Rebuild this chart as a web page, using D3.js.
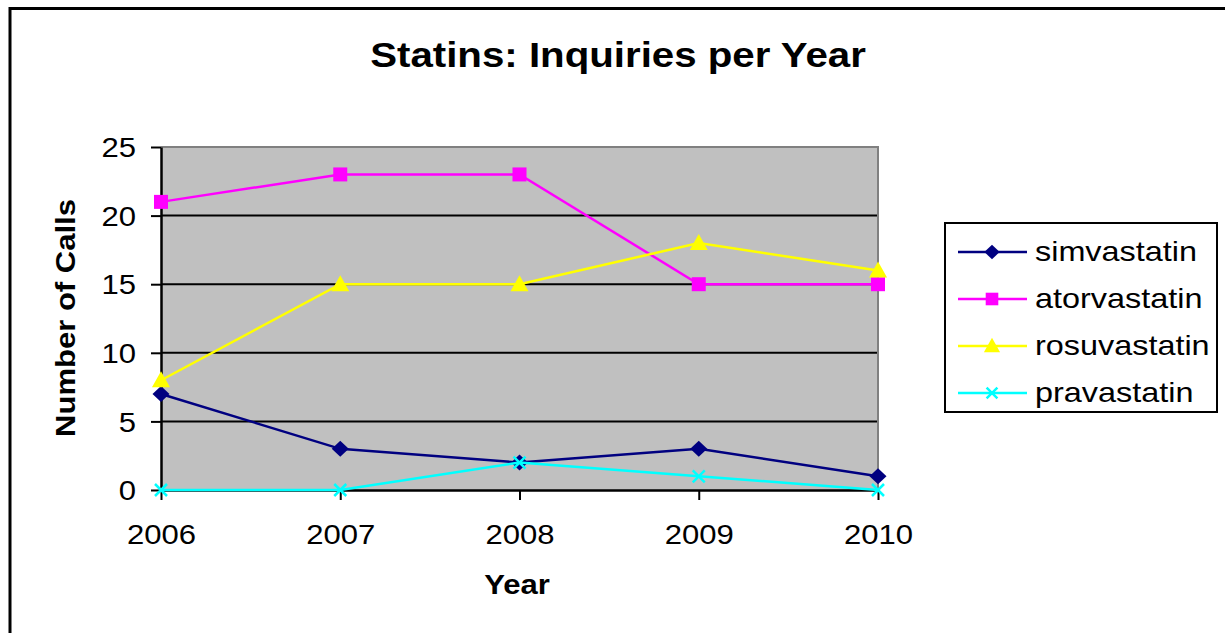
<!DOCTYPE html>
<html>
<head>
<meta charset="utf-8">
<script src="https://cdn.jsdelivr.net/npm/d3@7/dist/d3.min.js"></script>
<style>
  html, body { margin: 0; padding: 0; background: #fff; }
  svg { display: block; }
  text { font-family: "Liberation Sans", Arial, sans-serif; fill: #000; }
</style>
</head>
<body>
<svg id="chart" width="1225" height="633"></svg>
<script>
// Statin enquiry counts by year
const years = ["2006", "2007", "2008", "2009", "2010"];
const seriesNames = ["simvastatin", "atorvastatin", "rosuvastatin", "pravastatin"];
const simvastatin  = [7, 3, 2, 3, 1];
const atorvastatin = [21, 23, 23, 15, 15];
const rosuvastatin = [8, 15, 15, 18, 16];
const pravastatin  = [0, 0, 2, 1, 0];
const yTicks = [0, 5, 10, 15, 20, 25];

const colors  = ["#000080", "#FF00FF", "#FFFF00", "#00FFFF"];
const values  = [simvastatin, atorvastatin, rosuvastatin, pravastatin];

const SX = 1.15; // horizontal widening of the chart lettering

const svg = d3.select("#chart");

// outer chart frame (runs off the right and bottom edges)
svg.append("rect")
  .attr("x", 10).attr("y", 8.5)
  .attr("width", 1300).attr("height", 700)
  .attr("fill", "#fff").attr("stroke", "#000").attr("stroke-width", 3);

const plot = { left: 161, right: 878, top: 147, bottom: 490 };

const x = d3.scalePoint().domain(years).range([plot.left, plot.right]);
const y = d3.scaleLinear().domain([0, 25]).range([plot.bottom, plot.top]);

// plot background
svg.append("rect")
  .attr("x", plot.left).attr("y", plot.top)
  .attr("width", plot.right - plot.left).attr("height", plot.bottom - plot.top)
  .attr("fill", "#C0C0C0");

// horizontal gridlines
svg.append("g").selectAll("line")
  .data(yTicks.filter(t => t > 0 && t < 25))
  .join("line")
  .attr("x1", plot.left).attr("x2", plot.right)
  .attr("y1", d => y(d)).attr("y2", d => y(d))
  .attr("stroke", "#000").attr("stroke-width", 2);

// grey frame on top and right of the plot
svg.append("path")
  .attr("d", `M${plot.left},${plot.top}H${plot.right}V${plot.bottom}`)
  .attr("fill", "none").attr("stroke", "#808080").attr("stroke-width", 2);

// y axis
const yAxis = svg.append("g")
  .attr("transform", `translate(${plot.left},0)`)
  .call(d3.axisLeft(y).tickValues(yTicks).tickSize(10).tickSizeOuter(0));
yAxis.select(".domain").attr("stroke", "#000").attr("stroke-width", 2.5);
yAxis.selectAll(".tick line").attr("stroke", "#000").attr("stroke-width", 2);
yAxis.selectAll(".tick text")
  .attr("x", 0).attr("dy", "0.36em")
  .attr("transform", `translate(-25,0) scale(${SX},1)`)
  .style("font-size", "27px").style("font-family", "Liberation Sans, Arial, sans-serif")
  .attr("fill", "#000");

// x axis
const xAxis = svg.append("g")
  .attr("transform", `translate(0,${plot.bottom})`)
  .call(d3.axisBottom(x).tickSize(10).tickSizeOuter(0));
xAxis.select(".domain").attr("stroke", "#000").attr("stroke-width", 2.5);
xAxis.selectAll(".tick line").attr("stroke", "#000").attr("stroke-width", 2);
xAxis.selectAll(".tick text")
  .attr("y", 0).attr("dy", 0)
  .attr("transform", `translate(0,54) scale(${SX},1)`)
  .style("font-size", "27px").style("font-family", "Liberation Sans, Arial, sans-serif")
  .attr("fill", "#000");

// series lines and markers
const line = d3.line().x((d, i) => x(years[i])).y(d => y(d));

// marker shapes: diamond, square, triangle, x-cross
function marker(sel, idx, k) {
  const s = k || 1;
  if (idx === 0) {
    const w = 8.5 * s, h = 8 * s;
    sel.append("path")
      .attr("d", `M0,${-h}L${w},0L0,${h}L${-w},0Z`)
      .attr("fill", colors[idx]);
  } else if (idx === 1) {
    const h = 7 * s;
    sel.append("path")
      .attr("d", `M${-h},${-h}H${h}V${h}H${-h}Z`)
      .attr("fill", colors[idx]);
  } else if (idx === 2) {
    const w = 9 * s, h = 8 * s;
    sel.append("path")
      .attr("d", `M0,${-h - 1}L${w},${h - 1}L${-w},${h - 1}Z`)
      .attr("fill", colors[idx]);
  } else {
    const h = 6 * s;
    sel.append("path")
      .attr("d", `M${-h},${-h}L${h},${h}M${-h},${h}L${h},${-h}`)
      .attr("stroke", colors[idx]).attr("stroke-width", 2.5).attr("fill", "none");
  }
}

values.forEach((vals, idx) => {
  const g = svg.append("g");
  g.append("path")
    .attr("d", line(vals))
    .attr("fill", "none").attr("stroke", colors[idx]).attr("stroke-width", 2.5);
  vals.forEach((v, i) => {
    const m = g.append("g").attr("transform", `translate(${x(years[i])},${y(v)})`);
    marker(m, idx, 1);
  });
});

// title
svg.append("text")
  .attr("transform", `translate(618,67) scale(${SX},1)`)
  .attr("text-anchor", "middle")
  .style("font-size", "35px").style("font-weight", "bold")
  .text("Statins: Inquiries per Year");

// axis titles
svg.append("text")
  .attr("transform", `translate(517,594) scale(${SX},1)`)
  .attr("text-anchor", "middle")
  .style("font-size", "27px").style("font-weight", "bold")
  .text("Year");

svg.append("text")
  .attr("transform", `translate(75,318) rotate(-90) scale(${SX},1)`)
  .attr("text-anchor", "middle")
  .style("font-size", "27px").style("font-weight", "bold")
  .text("Number of Calls");

// legend
const legend = svg.append("g");
legend.append("rect")
  .attr("x", 945).attr("y", 223).attr("width", 272).attr("height", 189)
  .attr("fill", "#fff").attr("stroke", "#000").attr("stroke-width", 2);

const rowY = d3.scalePoint().domain(seriesNames).range([252, 393]);
seriesNames.forEach((name, idx) => {
  const cy = rowY(name);
  const row = legend.append("g");
  row.append("line")
    .attr("x1", 958).attr("x2", 1027).attr("y1", cy).attr("y2", cy)
    .attr("stroke", colors[idx]).attr("stroke-width", 2.5);
  const m = row.append("g").attr("transform", `translate(992,${cy})`);
  marker(m, idx, 0.9);
  row.append("text")
    .attr("transform", `translate(1035,${cy}) scale(1.2,1)`)
    .attr("dy", "0.35em")
    .style("font-size", "27px")
    .text(name);
});
</script>
</body>
</html>
